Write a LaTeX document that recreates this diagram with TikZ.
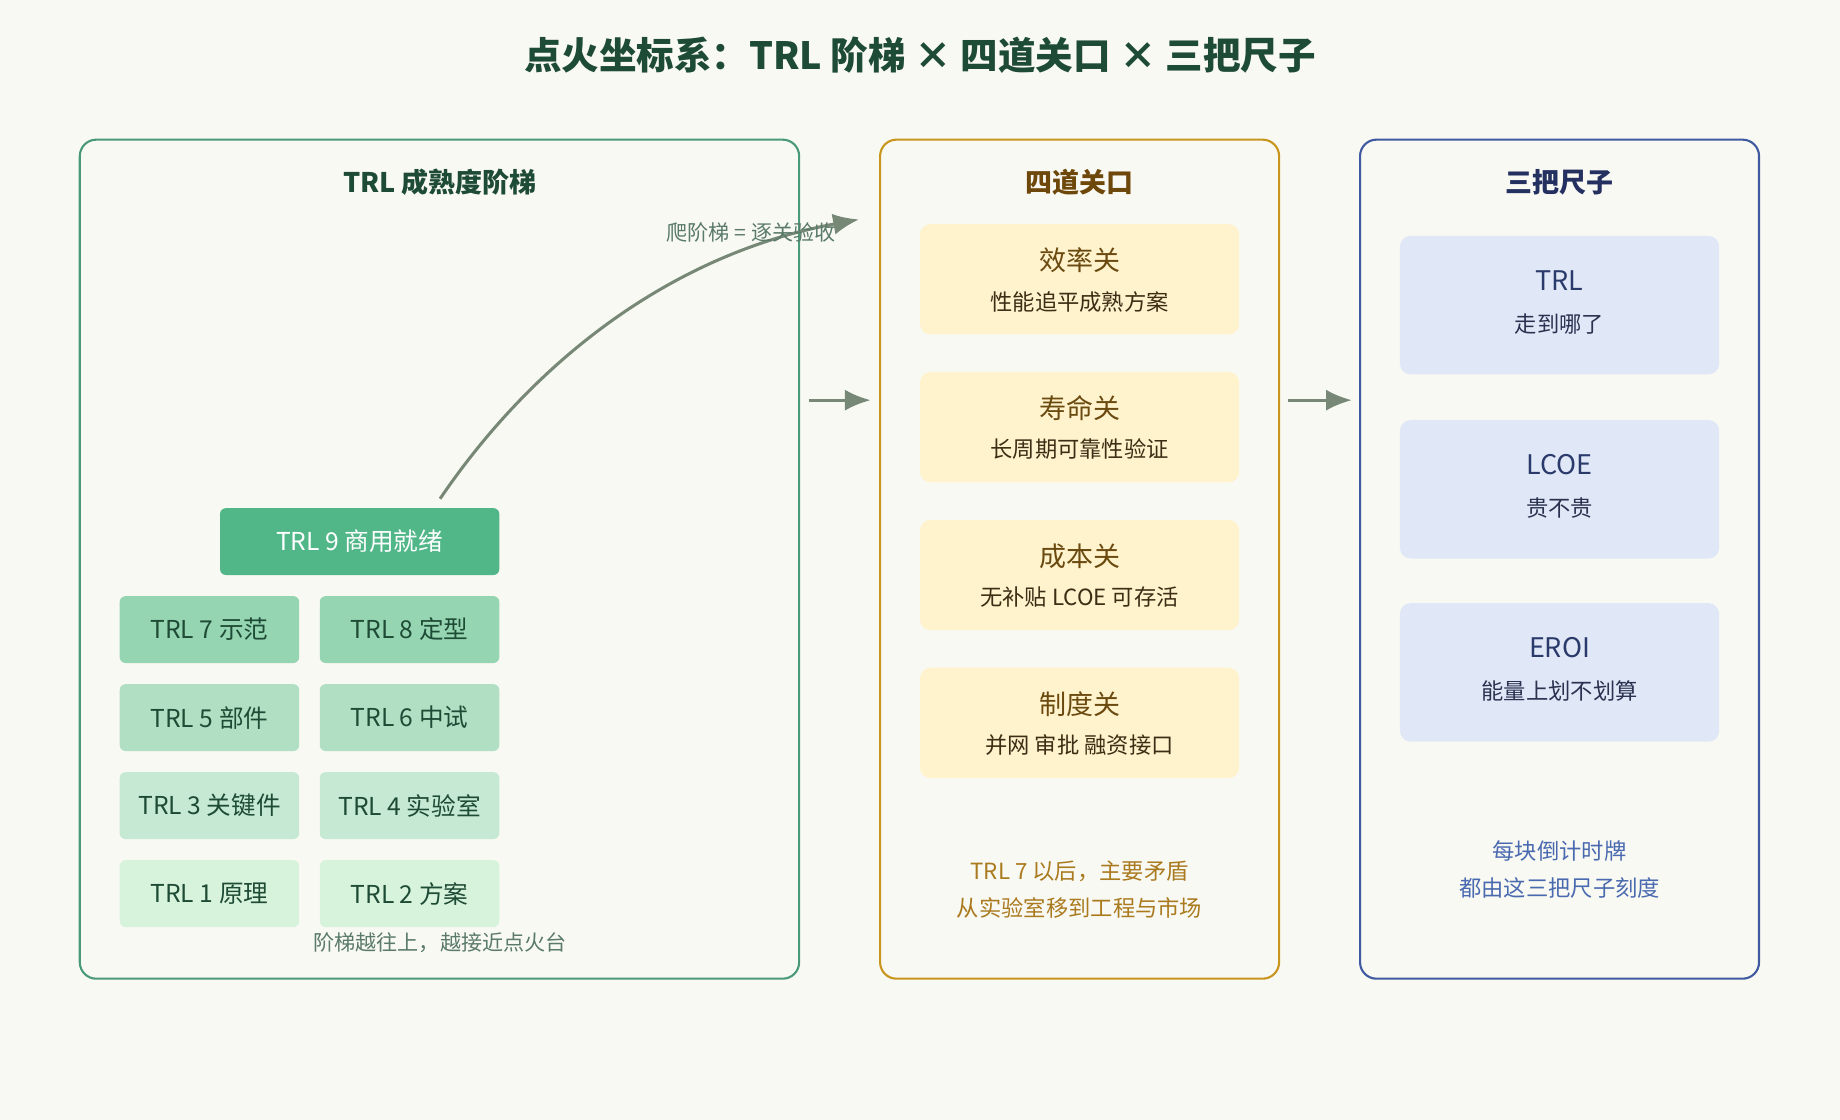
\documentclass[tikz,border=0pt]{standalone}
\usepackage{fontspec}
\setmainfont{Noto Sans CJK SC}
\usetikzlibrary{arrows.meta}
\definecolor{bgc}{HTML}{F9F9F3}
\definecolor{ttl}{HTML}{1E4B35}
\definecolor{grnline}{HTML}{4A9A78}
\definecolor{goldline}{HTML}{C8961E}
\definecolor{blueline}{HTML}{3F5AA0}
\definecolor{gateF}{HTML}{FFF3CD}
\definecolor{ruleF}{HTML}{E0E8F8}
\definecolor{arr}{HTML}{778877}
\definecolor{tA}{HTML}{52B788}
\definecolor{tB}{HTML}{95D5B2}
\definecolor{tC}{HTML}{B1DFC3}
\definecolor{tD}{HTML}{C5E9D2}
\definecolor{tE}{HTML}{D8F3DC}

\tikzset{
  panel/.style={draw=#1, line width=1.8pt, rounded corners=14pt},
  step/.style={fill=#1, rounded corners=5pt, minimum width=153pt, minimum height=57pt,
    text=ttl, font=\fontsize{21}{24}\selectfont},
  gate/.style={fill=gateF, rounded corners=9pt, minimum width=272pt, minimum height=94pt},
  ruler/.style={fill=ruleF, rounded corners=9pt, minimum width=272pt, minimum height=118pt},
  flow/.style={draw=arr, line width=2.6pt, -{Latex[length=22pt,width=18pt]}},
}

\begin{document}
\begin{tikzpicture}[x=1pt,y=-1pt]
\path[fill=bgc] (0,0) rectangle (1568,954);
\useasboundingbox (0,0) rectangle (1568,954);

\node[font=\fontsize{32}{36}\selectfont\bfseries, text=ttl] (title) at (784,47) {点火坐标系：TRL 阶梯 × 四道关口 × 三把尺子};

% panels
\draw[panel=grnline] (68,119) rectangle (681,834);
\draw[panel=goldline] (750,119) rectangle (1090,834);
\draw[panel=blueline] (1159,119) rectangle (1499,834);
\node[font=\fontsize{23}{26}\selectfont\bfseries, text=ttl] (ptrl) at (375,155) {TRL 成熟度阶梯};
\node[font=\fontsize{23}{26}\selectfont\bfseries, text={rgb,255:red,110;green,72;blue,10}] (pgate) at (920,155) {四道关口};
\node[font=\fontsize{23}{26}\selectfont\bfseries, text={rgb,255:red,35;green,48;blue,96}] (pruler) at (1329,155) {三把尺子};

% ladder
\node[step=tA, minimum width=238pt, text=white] (t9) at (306.5,461.5) {TRL 9 商用就绪};
\node[step=tB] (t7) at (178.5,536.5) {TRL 7 示范};
\node[step=tB] (t8) at (349,536.5) {TRL 8 定型};
\node[step=tC] (t5) at (178.5,611.5) {TRL 5 部件};
\node[step=tC] (t6) at (349,611.5) {TRL 6 中试};
\node[step=tD] (t3) at (178.5,686.5) {TRL 3 关键件};
\node[step=tD] (t4) at (349,686.5) {TRL 4 实验室};
\node[step=tE] (t1) at (178.5,761.5) {TRL 1 原理};
\node[step=tE] (t2) at (349,761.5) {TRL 2 方案};
\node[font=\fontsize{18}{20}\selectfont, text={rgb,255:red,90;green,122;blue,106}] (lnote) at (375,803) {阶梯越往上，越接近点火台};

\coordinate (cs) at (375,425);
\coordinate (ce) at (732,187);
\draw[flow] (cs) .. controls (460,300) and (580,215) .. (ce);
\node[font=\fontsize{18}{20}\selectfont, text={rgb,255:red,90;green,122;blue,106}] (climb) at (640,198) {爬阶梯 = 逐关验收};

\coordinate (a1) at (689,341); \coordinate (a2) at (742,341);
\coordinate (b1) at (1098,341); \coordinate (b2) at (1152,341);
\draw[flow] (a1) -- (a2);
\draw[flow] (b1) -- (b2);

% gates
\foreach \y/\n/\s [count=\i] in {238/效率关/性能追平成熟方案, 364/寿命关/长周期可靠性验证,
  490/成本关/无补贴 LCOE 可存活, 616/制度关/并网 审批 融资接口}{
  \node[gate] (g\i) at (920,\y) {};
  \node[font=\fontsize{23}{26}\selectfont, text={rgb,255:red,107;green,74;blue,16}] at (920,\y-16) {\n};
  \node[font=\fontsize{19}{21}\selectfont, text={rgb,255:red,60;green,45;blue,20}] at (920,\y+19) {\s};
}
\node[font=\fontsize{19}{31}\selectfont, text={rgb,255:red,170;green,122;blue,30}, align=center] (gnote) at (920,758) {TRL 7 以后，主要矛盾\\从实验室移到工程与市场};

% rulers
\foreach \y/\n/\s [count=\i] in {260/TRL/走到哪了, 417/LCOE/贵不贵, 573/EROI/能量上划不划算}{
  \node[ruler] (r\i) at (1329,\y) {};
  \node[font=\fontsize{23}{26}\selectfont, text={rgb,255:red,42;green,58;blue,106}] at (1329,\y-21) {\n};
  \node[font=\fontsize{19}{21}\selectfont, text={rgb,255:red,42;green,50;blue,80}] at (1329,\y+16) {\s};
}
\node[font=\fontsize{19}{31}\selectfont, text={rgb,255:red,74;green,106;blue,176}, align=center] (rnote) at (1329,741) {每块倒计时牌\\都由这三把尺子刻度};
\end{tikzpicture}
\end{document}
